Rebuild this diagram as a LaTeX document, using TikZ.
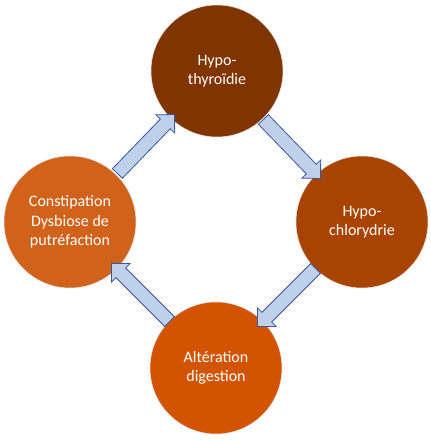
\documentclass[tikz,border=0pt]{standalone}
\usepackage{fontspec}
\setmainfont{Carlito}
\usetikzlibrary{shapes.arrows,calc}
\definecolor{hypoc}{RGB}{128,52,0}
\definecolor{chloc}{RGB}{169,68,0}
\definecolor{digc}{RGB}{210,84,0}
\definecolor{consc}{RGB}{208,98,26}
\definecolor{flechefill}{RGB}{190,208,234}
\definecolor{flechedraw}{RGB}{55,88,158}
\begin{document}
\begin{tikzpicture}[x=0.75pt, y=0.75pt,
	etape/.style={circle, minimum size=99pt, inner sep=0pt, draw=black!12, line width=0.4pt, text=white, align=center, font=\fontsize{12}{14.6}\selectfont},
	fleche/.style={single arrow, draw=flechedraw, fill=flechefill, line width=0.6pt, inner xsep=0pt, inner ysep=4.9pt, minimum height=61.5pt, single arrow head extend=4.6pt, single arrow tip angle=90}]
	\useasboundingbox (0,0) rectangle (431,440);
	\node[etape, fill=hypoc] (hypo) at (217,369) {Hypo-\\thyroïdie};
	\node[etape, fill=chloc] (chlor) at (362,218) {Hypo-\\chlorydrie};
	\node[etape, fill=digc] (diges) at (216,72) {Altération\\digestion};
	\node[etape, fill=consc] (const) at (70,218) {Constipation\\Dysbiose de\\putréfaction};
	\node[fleche, rotate=46] (f1) at ($(const)!0.5!(hypo)$) {};
	\node[fleche, rotate=-46] (f2) at ($(hypo)!0.5!(chlor)$) {};
	\node[fleche, rotate=-135] (f3) at ($(chlor)!0.5!(diges)$) {};
	\node[fleche, rotate=135] (f4) at ($(diges)!0.5!(const)$) {};
\end{tikzpicture}
\end{document}
